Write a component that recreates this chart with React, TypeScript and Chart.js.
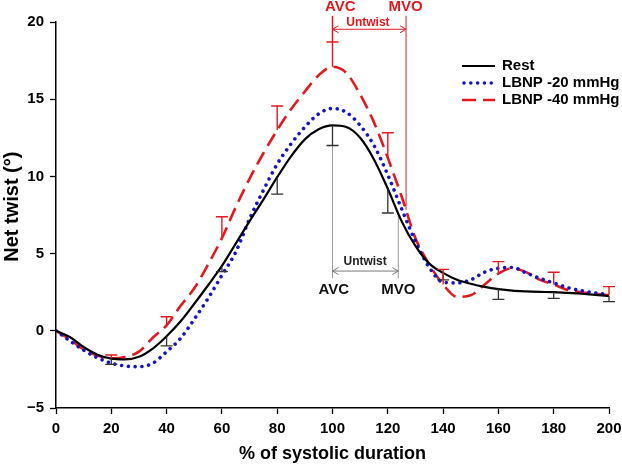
import React, { useEffect, useRef } from 'react';
import { Chart, registerables } from 'chart.js';

Chart.register(...registerables);

const FONT = "'Liberation Sans', Arial, Helvetica, sans-serif";

// % of systolic duration (shared grid for all curves)
const xGrid = [
  0, 5, 10, 15, 20, 25, 30, 35, 40, 45, 50, 55, 60, 65, 70, 75, 80, 85, 90, 95,
  100, 105, 110, 115, 120, 125, 130, 135, 140, 145, 150, 155, 160, 165, 170, 175,
  180, 185, 190, 195, 200,
];

// Net twist (deg)
const restTwist = [
  0, -0.4, -1.05, -1.55, -1.8, -1.85, -1.68, -1.15, -0.35, 0.6, 1.75, 2.95, 4.2,
  5.65, 7.1, 8.5, 9.95, 11.3, 12.4, 13.05, 13.3, 13.2, 12.5, 11.1, 9.2, 7.1, 5.5,
  4.35, 3.75, 3.3, 3.05, 2.85, 2.7, 2.6, 2.55, 2.52, 2.5, 2.45, 2.4, 2.32, 2.25,
];
const lbnp20Twist = [
  0, -0.65, -1.25, -1.75, -2.1, -2.28, -2.32, -2.1, -1.35, -0.5, 0.75, 2.1, 3.6,
  5.1, 7.25, 9.1, 10.8, 12.1, 13.2, 14.05, 14.4, 14.15, 13.3, 12.0, 10.1, 7.9,
  5.8, 4.1, 3.15, 3.1, 3.3, 3.8, 4.05, 4.1, 3.75, 3.4, 3.1, 2.8, 2.6, 2.45, 2.35,
];
const lbnp40Twist = [
  0, -0.55, -1.2, -1.6, -1.78, -1.7, -1.35, -0.45, 0.35, 1.6, 2.75, 4.3, 6.0,
  8.0, 9.85, 11.5, 13.0, 14.35, 15.5, 16.55, 17.1, 16.7, 15.3, 13.5, 11.2, 8.7,
  6.0, 4.3, 3.0, 2.2, 2.3, 3.0, 3.7, 4.05, 3.8, 3.3, 3.0, 2.65, 2.5, 2.4, 2.3,
];

// Error bars (SD): Rest drawn downward, LBNP -40 drawn upward
const errX = [20, 40, 60, 80, 100, 120, 140, 160, 180, 200];
const restSD = [0.37, 0.63, 0.37, 1.1, 1.3, 1.57, 0.45, 0.66, 0.4, 0.36];
const lbnp40SD = [0.21, 0.56, 1.39, 1.56, 1.6, 1.63, 0.98, 0.78, 0.79, 0.56];

const seriesLabels = ['Rest', 'LBNP -20 mmHg', 'LBNP -40 mmHg'];

// Annotation anchors (data units)
const avcX = 100;
const mvoRestX = 123.8;
const mvo40X = 126.6;

const pts = (ys: number[]) => xGrid.map((x, i) => ({ x, y: ys[i] }));

const valueAt = (ys: number[], x: number) => {
  for (let i = 0; i < xGrid.length - 1; i++) {
    if (x >= xGrid[i] && x <= xGrid[i + 1]) {
      const t = (x - xGrid[i]) / (xGrid[i + 1] - xGrid[i]);
      return ys[i] + t * (ys[i + 1] - ys[i]);
    }
  }
  return ys[ys.length - 1];
};

function drawArrow(ctx: CanvasRenderingContext2D, x1: number, x2: number, y: number, color: string) {
  ctx.save();
  ctx.strokeStyle = color;
  ctx.lineWidth = 1;
  ctx.setLineDash([]);
  ctx.beginPath();
  ctx.moveTo(x1, y);
  ctx.lineTo(x2, y);
  ctx.moveTo(x1 + 6, y - 3.5);
  ctx.lineTo(x1, y);
  ctx.lineTo(x1 + 6, y + 3.5);
  ctx.moveTo(x2 - 6, y - 3.5);
  ctx.lineTo(x2, y);
  ctx.lineTo(x2 - 6, y + 3.5);
  ctx.stroke();
  ctx.restore();
}

function vline(ctx: CanvasRenderingContext2D, x: number, y1: number, y2: number, color: string, w: number) {
  ctx.save();
  ctx.strokeStyle = color;
  ctx.lineWidth = w;
  ctx.setLineDash([]);
  ctx.beginPath();
  ctx.moveTo(x, y1);
  ctx.lineTo(x, y2);
  ctx.stroke();
  ctx.restore();
}

function text(ctx: CanvasRenderingContext2D, s: string, x: number, y: number, color: string, size: number) {
  ctx.save();
  ctx.fillStyle = color;
  ctx.font = `bold ${size}px ${FONT}`;
  ctx.textAlign = 'center';
  ctx.textBaseline = 'middle';
  ctx.fillText(s, x, y);
  ctx.restore();
}

const RED = '#e3191f';
const BLUE = '#1414c8';

const annotationsPlugin = {
  id: 'annots',
  beforeDatasetsDraw(chart: any) {
    const { ctx, scales } = chart;
    const xs = scales.x;
    const ys = scales.y;
    const X = (v: number) => xs.getPixelForValue(v);
    const Y = (v: number) => ys.getPixelForValue(v);
    // gray AVC / MVO lines (rest)
    vline(ctx, X(avcX), Y(valueAt(restTwist, avcX)), Y(3.4), '#9a9a9a', 1);
    vline(ctx, X(mvoRestX), Y(valueAt(restTwist, mvoRestX)), Y(3.4), '#9a9a9a', 1);
    // red MVO line (LBNP -40)
    vline(ctx, X(mvo40X), Y(20.4), Y(valueAt(lbnp40Twist, mvo40X)), RED, 1);
  },
  afterDatasetsDraw(chart: any) {
    const { ctx, scales } = chart;
    const xs = scales.x;
    const ys = scales.y;
    const X = (v: number) => xs.getPixelForValue(v);
    const Y = (v: number) => ys.getPixelForValue(v);

    // error bars
    const cap = 6;
    errX.forEach((x, i) => {
      const px = X(x);
      // rest (down)
      const m = valueAt(restTwist, x);
      ctx.save();
      ctx.strokeStyle = '#333';
      ctx.lineWidth = 1.3;
      ctx.setLineDash([]);
      ctx.beginPath();
      ctx.moveTo(px, Y(m));
      ctx.lineTo(px, Y(m - restSD[i]));
      ctx.moveTo(px - cap, Y(m - restSD[i]));
      ctx.lineTo(px + cap, Y(m - restSD[i]));
      ctx.stroke();
      // lbnp -40 (up)
      const r = valueAt(lbnp40Twist, x);
      ctx.strokeStyle = RED;
      ctx.lineWidth = 1.4;
      ctx.beginPath();
      ctx.moveTo(px, Y(r));
      ctx.lineTo(px, Y(r + lbnp40SD[i]));
      ctx.moveTo(px - cap, Y(r + lbnp40SD[i]));
      ctx.lineTo(px + cap, Y(r + lbnp40SD[i]));
      ctx.stroke();
      ctx.restore();
    });

    // red AVC line above the error bar
    const i100 = errX.indexOf(avcX);
    vline(ctx, X(avcX), Y(20.4), Y(valueAt(lbnp40Twist, avcX) + lbnp40SD[i100]), RED, 1.5);

    // gray untwist arrow + texts
    drawArrow(ctx, X(avcX), X(mvoRestX), Y(3.87), '#7a7a7a');
    text(ctx, 'Untwist', X(111.8), Y(4.5), '#222', 12);
    text(ctx, 'AVC', X(100.5), Y(2.65), '#111', 15);
    text(ctx, 'MVO', X(123.8), Y(2.65), '#111', 15);

    // red untwist arrow + texts
    drawArrow(ctx, X(avcX), X(mvo40X), Y(19.53), RED);
    text(ctx, 'Untwist', X(112.8), Y(19.95), RED, 12);
    text(ctx, 'AVC', X(102.8), Y(20.98), RED, 15);
    text(ctx, 'MVO', X(126.4), Y(20.98), RED, 15);

    // legend
    const ca = chart.chartArea;
    const lx = ca.right - 147;
    chart.data.datasets.forEach((ds: any, i: number) => {
      const y = ca.top + 44 + i * 17;
      ctx.save();
      ctx.strokeStyle = ds.borderColor;
      ctx.lineWidth = ds.borderWidth;
      ctx.lineCap = ds.borderCapStyle || 'butt';
      ctx.setLineDash(ds.borderDash || []);
      ctx.beginPath();
      ctx.moveTo(lx + (i === 1 ? 2 : 0), y);
      ctx.lineTo(lx + 33, y);
      ctx.stroke();
      ctx.setLineDash([]);
      ctx.fillStyle = '#000';
      ctx.font = `bold 15px ${FONT}`;
      ctx.textAlign = 'left';
      ctx.textBaseline = 'middle';
      ctx.fillText(ds.label, lx + 40, y);
      ctx.restore();
    });
  },
};

export default function App() {
  const ref = useRef<HTMLCanvasElement | null>(null);

  useEffect(() => {
    if (!ref.current) return;
    const tickFont = { family: FONT, size: 15, weight: 'bold' as const };
    const titleFont = { family: FONT, size: 18, weight: 'bold' as const };
    const yTitleFont = { family: FONT, size: 20, weight: 'bold' as const };
    const chart = new Chart(ref.current, {
      type: 'line',
      data: {
        datasets: [
          {
            label: seriesLabels[0],
            data: pts(restTwist),
            borderColor: '#000',
            borderWidth: 2.2,
            pointRadius: 0,
            cubicInterpolationMode: 'monotone',
            borderCapStyle: 'butt',
          },
          {
            label: seriesLabels[1],
            data: pts(lbnp20Twist),
            borderColor: BLUE,
            borderWidth: 3.6,
            borderDash: [0.01, 6.8],
            borderCapStyle: 'round',
            pointRadius: 0,
            cubicInterpolationMode: 'monotone',
          },
          {
            label: seriesLabels[2],
            data: pts(lbnp40Twist),
            borderColor: RED,
            borderWidth: 2.6,
            borderDash: [14, 7],
            borderCapStyle: 'butt',
            pointRadius: 0,
            cubicInterpolationMode: 'monotone',
          },
        ],
      },
      options: {
        animation: false,
        responsive: true,
        maintainAspectRatio: false,
        devicePixelRatio: 1,
        layout: { padding: { top: 22, right: 13, left: 0, bottom: 0 } },
        plugins: {
          legend: { display: false },
          tooltip: { enabled: false },
        },
        scales: {
          x: {
            type: 'linear',
            min: 0,
            max: 200,
            ticks: { stepSize: 20, font: tickFont, color: '#000', padding: 6, maxRotation: 0 },
            grid: { drawOnChartArea: false, drawTicks: true, tickLength: 6, tickColor: '#000', tickWidth: 1.3 },
            border: { display: true, color: '#000', width: 1.5 },
            title: { display: true, text: '% of systolic duration', font: titleFont, color: '#000', padding: { top: 0, bottom: 1 } },
            afterFit: (scale: any) => {
              scale.height = 58;
              scale.paddingLeft = 0;
              scale.paddingRight = 0;
            },
          },
          y: {
            type: 'linear',
            min: -5,
            max: 20,
            ticks: {
              stepSize: 5,
              font: tickFont,
              color: '#000',
              padding: 6,
              callback: (v: any) => (Number(v) < 0 ? '\u2212' + Math.abs(Number(v)) : String(v)),
            },
            grid: { drawOnChartArea: false, drawTicks: true, tickLength: 6, tickColor: '#000', tickWidth: 1.3 },
            border: { display: true, color: '#000', width: 1.5 },
            title: { display: true, text: '   Net twist (°)', font: yTitleFont, color: '#000', padding: { top: 0, bottom: 0 } },
            afterFit: (scale: any) => {
              scale.width = 56;
              scale.paddingTop = 0;
              scale.paddingBottom = 0;
            },
          },
        },
      },
      plugins: [annotationsPlugin],
    });
    return () => chart.destroy();
  }, []);

  return (
    <div style={{ position: 'absolute', left: 0, top: 0, width: 622, height: 466, background: '#fff' }}>
      <canvas ref={ref} />
    </div>
  );
}
